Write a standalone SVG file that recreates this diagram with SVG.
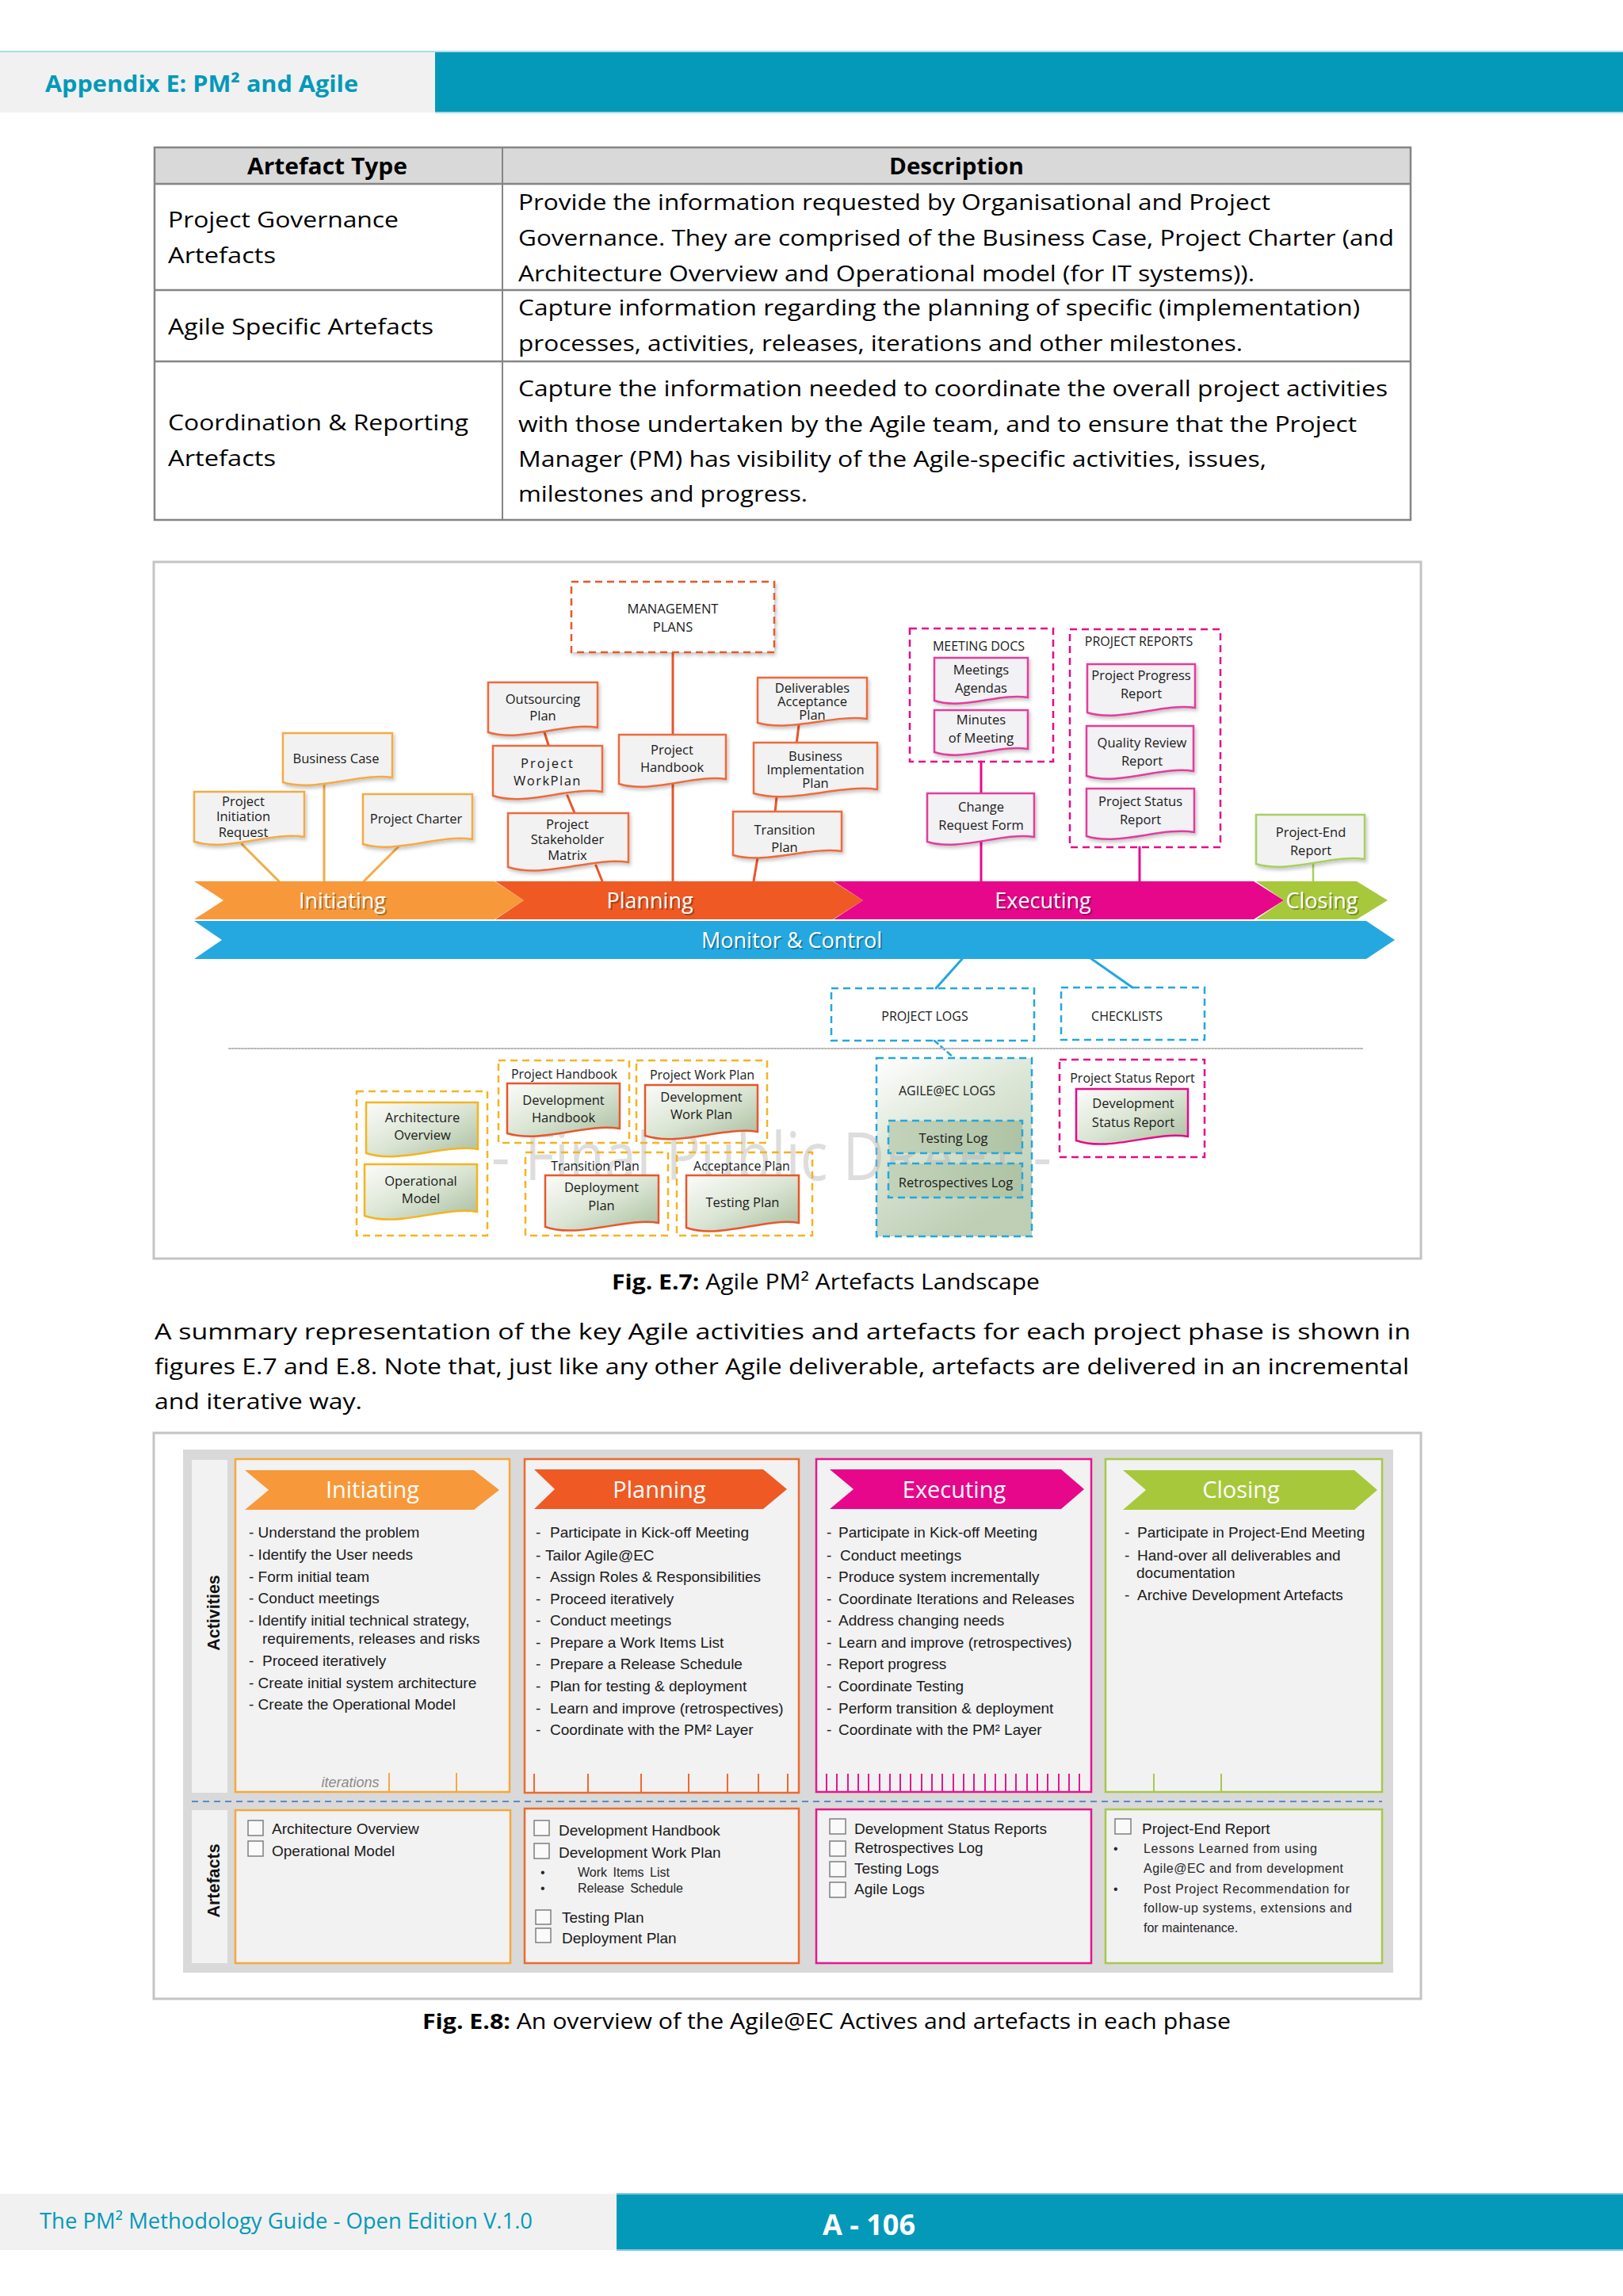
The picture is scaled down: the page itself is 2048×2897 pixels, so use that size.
<svg xmlns="http://www.w3.org/2000/svg" width="2048" height="2897" viewBox="0 0 2048 2897">
<defs>
<style>
.o{font-family:"Open Sans","Liberation Sans",sans-serif}
.tb{font-family:"Open Sans","Liberation Sans",sans-serif;font-size:28px;fill:#000}
.dt{font-family:"Open Sans","Liberation Sans",sans-serif;font-size:16.5px;fill:#1a1a1a;text-anchor:middle}
.gt{font-family:"Open Sans","Liberation Sans",sans-serif;font-size:16px;fill:#1a1a1a;text-anchor:middle}
.di{fill:#f2f2f2;stroke:#f4ab44;stroke-width:2.5;filter:url(#sh)}
.dp{fill:#f2f2f2;stroke:#ee6b3d;stroke-width:2.5;filter:url(#sh)}
.de{fill:#f2f1f4;stroke:#e33d9d;stroke-width:2.5;filter:url(#sh)}
.dc{fill:#f2f2f2;stroke:#a9cf5f;stroke-width:2.5;filter:url(#sh)}
.by{fill:url(#gg);stroke:#f5b41e;stroke-width:2.5}
.br{fill:url(#gg);stroke:#e8572a;stroke-width:2.5}
.bp{fill:url(#gg);stroke:#e8098a;stroke-width:2.5}
.dash{fill:none;stroke-width:2.5;stroke-dasharray:9 6}
.bar{font-family:"Open Sans","Liberation Sans",sans-serif;font-size:27px;fill:#fff;text-anchor:middle}
.bsh{font-family:"Open Sans","Liberation Sans",sans-serif;font-size:27px;fill:#000;fill-opacity:.3;text-anchor:middle}
.ph{font-family:"Open Sans","Liberation Sans",sans-serif;font-size:29px;fill:#fff;text-anchor:middle}
.act{font-family:"Liberation Sans",Arial,sans-serif;font-size:19px;fill:#1a1a1a}
.sm{font-family:"Liberation Sans",Arial,sans-serif;font-size:16px;fill:#262626}
.cb{fill:#fafafa;stroke:#7f7f7f;stroke-width:1.5}
.col{fill:#f2f2f3;stroke-width:2.5}
</style>
<linearGradient id="gg" x1="0" y1="0" x2="1" y2="1">
<stop offset="0" stop-color="#fbfcfa"/>
<stop offset="0.5" stop-color="#dbe5d4"/>
<stop offset="1" stop-color="#a8bd9e"/>
</linearGradient>
<linearGradient id="ga" x1="0" y1="0" x2="0.5" y2="1">
<stop offset="0" stop-color="#ffffff"/>
<stop offset="0.45" stop-color="#d6e2cf"/>
<stop offset="1" stop-color="#b2c6a8"/>
</linearGradient>
<linearGradient id="gl" x1="0" y1="0" x2="1" y2="0">
<stop offset="0" stop-color="#c3d3ba"/>
<stop offset="1" stop-color="#aec3a4"/>
</linearGradient>
<filter id="sh" x="-10%" y="-10%" width="130%" height="140%">
<feDropShadow dx="2" dy="3" stdDeviation="2" flood-color="#000" flood-opacity="0.22"/>
</filter>
</defs>

<rect width="2048" height="2897" fill="#fff"/>

<!-- Header -->
<g id="header">
<rect x="0" y="65" width="549" height="77" fill="#f1f1f1"/>
<rect x="549" y="65" width="1499" height="77" fill="#0499b9"/>
<line x1="0" y1="65" x2="2048" y2="65" stroke="#a9dbe7" stroke-width="2"/>
<line x1="549" y1="142" x2="2048" y2="142" stroke="#a9dbe7" stroke-width="2"/>
<text class="o" x="57" y="116" font-size="29" font-weight="bold" fill="#0499b9" textLength="395" lengthAdjust="spacingAndGlyphs">Appendix E: PM² and Agile</text>
</g>

<!-- Table -->
<g id="table">
<rect x="195" y="186" width="1585" height="46" fill="#d9d9d9"/>
<rect x="195" y="186" width="1585" height="470" fill="none" stroke="#858585" stroke-width="2.5"/>
<line x1="195" y1="232" x2="1780" y2="232" stroke="#858585" stroke-width="2.5"/>
<line x1="195" y1="366" x2="1780" y2="366" stroke="#858585" stroke-width="2.5"/>
<line x1="195" y1="456" x2="1780" y2="456" stroke="#858585" stroke-width="2.5"/>
<line x1="634" y1="186" x2="634" y2="656" stroke="#858585" stroke-width="2"/>
<text class="tb" x="413" y="220" font-weight="bold" text-anchor="middle" textLength="202" lengthAdjust="spacingAndGlyphs">Artefact Type</text>
<text class="tb" x="1207" y="220" font-weight="bold" text-anchor="middle" textLength="170" lengthAdjust="spacingAndGlyphs">Description</text>
<text class="tb" x="212" y="287" textLength="291" lengthAdjust="spacingAndGlyphs">Project Governance</text>
<text class="tb" x="212" y="332" textLength="136" lengthAdjust="spacingAndGlyphs">Artefacts</text>
<text class="tb" x="654" y="265" textLength="949" lengthAdjust="spacingAndGlyphs">Provide the information requested by Organisational and Project</text>
<text class="tb" x="654" y="310" textLength="1105" lengthAdjust="spacingAndGlyphs">Governance. They are comprised of the Business Case, Project Charter (and</text>
<text class="tb" x="654" y="355" textLength="929" lengthAdjust="spacingAndGlyphs">Architecture Overview and Operational model (for IT systems)).</text>
<text class="tb" x="212" y="422" textLength="335" lengthAdjust="spacingAndGlyphs">Agile Specific Artefacts</text>
<text class="tb" x="654" y="398" textLength="1062" lengthAdjust="spacingAndGlyphs">Capture information regarding the planning of specific (implementation)</text>
<text class="tb" x="654" y="443" textLength="914" lengthAdjust="spacingAndGlyphs">processes, activities, releases, iterations and other milestones.</text>
<text class="tb" x="212" y="543" textLength="379" lengthAdjust="spacingAndGlyphs">Coordination &amp; Reporting</text>
<text class="tb" x="212" y="588" textLength="136" lengthAdjust="spacingAndGlyphs">Artefacts</text>
<text class="tb" x="654" y="500" textLength="1097" lengthAdjust="spacingAndGlyphs">Capture the information needed to coordinate the overall project activities</text>
<text class="tb" x="654" y="545" textLength="1058" lengthAdjust="spacingAndGlyphs">with those undertaken by the Agile team, and to ensure that the Project</text>
<text class="tb" x="654" y="589" textLength="944" lengthAdjust="spacingAndGlyphs">Manager (PM) has visibility of the Agile-specific activities, issues,</text>
<text class="tb" x="654" y="633" textLength="365" lengthAdjust="spacingAndGlyphs">milestones and progress.</text>
</g>

<!-- Fig E.7 -->
<g id="fig-e7">
<rect x="194" y="709" width="1599" height="879" fill="#fff" stroke="#c4c4c4" stroke-width="3"/>

<g id="e7-connectors" stroke-linecap="round" fill="none">
<g stroke="#f4ab44" stroke-width="3">
<line x1="305" y1="1065" x2="352" y2="1112"/>
<line x1="409" y1="990" x2="409" y2="1112"/>
<line x1="503" y1="1068" x2="459" y2="1112"/>
</g>
<g stroke="#e8572a" stroke-width="3">
<line x1="687" y1="924" x2="693" y2="943"/>
<line x1="716" y1="1004" x2="726" y2="1028"/>
<line x1="752" y1="1092" x2="760" y2="1112"/>
<line x1="849" y1="823" x2="849" y2="1112"/>
<line x1="1008" y1="915" x2="1005" y2="939"/>
<line x1="980" y1="1005" x2="978" y2="1026"/>
<line x1="956" y1="1082" x2="951" y2="1112"/>
</g>
<g stroke="#e8098a" stroke-width="3">
<line x1="1238" y1="961" x2="1238" y2="1001"/>
<line x1="1238" y1="1062" x2="1238" y2="1112"/>
<line x1="1438" y1="1069" x2="1438" y2="1112"/>
</g>
<line x1="1657" y1="1090" x2="1657" y2="1112" stroke="#a9cf5f" stroke-width="2.5"/>
<g stroke="#22a7df" stroke-width="3">
<line x1="1214" y1="1210" x2="1181" y2="1247"/>
<line x1="1349" y1="1190" x2="1429" y2="1246"/>
</g>
<line x1="1179" y1="1313" x2="1204" y2="1335" stroke="#22a7df" stroke-width="2.5" stroke-dasharray="6 5"/>
<line x1="289" y1="1323" x2="1719" y2="1323" stroke="#b5b5b5" stroke-width="2" stroke-dasharray="2 2"/>
</g>

<g id="phase-bars">
<polygon points="245,1112 624,1112 661,1136 624,1160 245,1160 282,1136" fill="#f7993b"/>
<polygon points="625,1112 1051,1112 1089,1136 1051,1160 625,1160 661,1136" fill="#ef5a24"/>
<polygon points="1052,1112 1582,1112 1620,1136 1582,1160 1052,1160 1089,1136" fill="#e7078a"/>
<polygon points="1585,1112 1712,1112 1751,1136 1712,1160 1585,1160 1620,1136" fill="#a8c83c"/>
<polygon points="245,1162 1724,1162 1760,1186 1724,1210 245,1210 280,1186" fill="#24a8df"/>
<text class="bsh" x="434" y="1148">Initiating</text>
<text class="bar" x="432" y="1146">Initiating</text>
<text class="bsh" x="822" y="1148">Planning</text>
<text class="bar" x="820" y="1146">Planning</text>
<text class="bsh" x="1318" y="1148">Executing</text>
<text class="bar" x="1316" y="1146">Executing</text>
<text class="bsh" x="1670" y="1148">Closing</text>
<text class="bar" x="1668" y="1146">Closing</text>
<text class="bsh" x="1001" y="1198">Monitor &amp; Control</text>
<text class="bar" x="999" y="1196">Monitor &amp; Control</text>
</g>

<g id="management-plans">
<rect x="721" y="734" width="256" height="89" fill="#fff" stroke="#e8572a" class="dash" style="fill:#fff;filter:url(#sh)"/>
<text class="dt" x="849" y="774" font-size="17">MANAGEMENT</text>
<text class="dt" x="849" y="797" font-size="17">PLANS</text>
</g>

<g id="project-initiation-request"><path class="di" d="M245 999H384V1056C342 1049 287 1075 245 1062Z"/>
<text class="dt" x="307" y="1017">Project</text><text class="dt" x="307" y="1036">Initiation</text><text class="dt" x="307" y="1056">Request</text></g>
<g id="business-case"><path class="di" d="M357 925H495V981C454 975 398 1000 357 987Z"/>
<text class="dt" x="424" y="963">Business Case</text></g>
<g id="project-charter"><path class="di" d="M458 1002H596V1059C555 1052 499 1078 458 1065Z"/>
<text class="dt" x="525" y="1039">Project Charter</text></g>

<g id="outsourcing-plan"><path class="dp" d="M616 861H754V918C713 911 657 937 616 924Z"/>
<text class="dt" x="685" y="888">Outsourcing</text><text class="dt" x="685" y="909">Plan</text></g>
<g id="project-workplan"><path class="dp" d="M622 941H760V999C719 992 663 1018 622 1004Z"/>
<text class="dt" x="691" y="969" letter-spacing="2">Project</text><text class="dt" x="691" y="991" letter-spacing="1.5">WorkPlan</text></g>
<g id="project-stakeholder-matrix"><path class="dp" d="M641 1026H793V1088C747 1081 687 1109 641 1094Z"/>
<text class="dt" x="716" y="1046">Project</text><text class="dt" x="716" y="1065">Stakeholder</text><text class="dt" x="716" y="1085">Matrix</text></g>
<g id="project-handbook"><path class="dp" d="M781 927H916V983C876 977 822 1002 781 989Z"/>
<text class="dt" x="848" y="952">Project</text><text class="dt" x="848" y="974">Handbook</text></g>
<g id="deliverables-acceptance-plan"><path class="dp" d="M956 855H1094V907C1053 901 997 924 956 912Z"/>
<text class="dt" x="1025" y="874" font-size="15.5">Deliverables</text><text class="dt" x="1025" y="891" font-size="15.5">Acceptance</text><text class="dt" x="1025" y="908" font-size="15.5">Plan</text></g>
<g id="business-implementation-plan"><path class="dp" d="M951 937H1107V996C1060 989 998 1015 951 1001Z"/>
<text class="dt" x="1029" y="960" font-size="15.5">Business</text><text class="dt" x="1029" y="977" font-size="15.5">Implementation</text><text class="dt" x="1029" y="994" font-size="15.5">Plan</text></g>
<g id="transition-plan"><path class="dp" d="M925 1024H1062V1074C1021 1068 966 1091 925 1079Z"/>
<text class="dt" x="990" y="1053">Transition</text><text class="dt" x="990" y="1075">Plan</text></g>

<g id="meeting-docs">
<rect x="1148" y="793" width="181" height="168" class="dash" stroke="#e8098a"/>
<text class="gt" x="1235" y="821">MEETING DOCS</text>
</g>
<g id="meetings-agendas"><path class="de" d="M1179 830H1297V880C1262 874 1214 896 1179 884Z"/>
<text class="dt" x="1238" y="851">Meetings</text><text class="dt" x="1238" y="874">Agendas</text></g>
<g id="minutes-of-meeting"><path class="de" d="M1179 896H1297V945C1262 939 1214 961 1179 949Z"/>
<text class="dt" x="1238" y="914">Minutes</text><text class="dt" x="1238" y="937">of Meeting</text></g>
<g id="change-request-form"><path class="de" d="M1170 1001H1305V1056C1264 1050 1210 1075 1170 1062Z"/>
<text class="dt" x="1238" y="1024">Change</text><text class="dt" x="1238" y="1047">Request Form</text></g>

<g id="project-reports">
<rect x="1350" y="794" width="190" height="275" class="dash" stroke="#e8098a"/>
<text class="gt" x="1437" y="815">PROJECT REPORTS</text>
</g>
<g id="project-progress-report"><path class="de" d="M1372 838H1508V893C1467 887 1413 912 1372 899Z"/>
<text class="dt" x="1440" y="858">Project Progress</text><text class="dt" x="1440" y="881">Report</text></g>
<g id="quality-review-report"><path class="de" d="M1371 916H1506V973C1466 966 1411 992 1371 979Z"/>
<text class="dt" x="1441" y="943">Quality Review</text><text class="dt" x="1441" y="966">Report</text></g>
<g id="project-status-report"><path class="de" d="M1371 995H1507V1050C1466 1043 1412 1068 1371 1055Z"/>
<text class="dt" x="1439" y="1017">Project Status</text><text class="dt" x="1439" y="1040">Report</text></g>

<g id="project-end-report"><path class="dc" d="M1585 1028H1722V1084C1681 1078 1626 1103 1585 1090Z"/>
<text class="dt" x="1654" y="1056">Project-End</text><text class="dt" x="1654" y="1079">Report</text></g>

<g id="project-logs">
<rect x="1049" y="1247" width="256" height="66" class="dash" stroke="#22a7df"/>
<text class="gt" x="1167" y="1288">PROJECT LOGS</text>
</g>
<g id="checklists">
<rect x="1339" y="1246" width="181" height="66" class="dash" stroke="#22a7df"/>
<text class="gt" x="1422" y="1288">CHECKLISTS</text>
</g>

<g id="agile-ec-logs">
<rect x="1106" y="1335" width="196" height="225" fill="url(#ga)" fill-opacity="0.85"/>
<rect x="1106" y="1335" width="196" height="225" class="dash" stroke="#22a7df"/>
<text class="gt" x="1195" y="1382">AGILE@EC LOGS</text>
</g>

<g id="watermark">
<text class="o" x="620" y="1489" font-size="84" fill="#b4b4b4" fill-opacity="0.45" textLength="707" lengthAdjust="spacingAndGlyphs">- Final Public DRAFT -</text>
</g>

<g id="testing-log">
<rect x="1121" y="1414" width="169" height="41" fill="url(#gl)" stroke="#22a7df" stroke-width="2.5" stroke-dasharray="9 6"/>
<text class="dt" x="1203" y="1442">Testing Log</text>
</g>
<g id="retrospectives-log">
<rect x="1121" y="1468" width="169" height="43" fill="url(#gl)" stroke="#22a7df" stroke-width="2.5" stroke-dasharray="9 6"/>
<text class="dt" x="1206" y="1498">Retrospectives Log</text>
</g>

<g id="psr-group">
<rect x="1337" y="1337" width="183" height="123" class="dash" stroke="#e8098a"/>
<text class="gt" x="1429" y="1366">Project Status Report</text>
</g>
<g id="development-status-report"><path class="bp" d="M1358 1374H1499V1434C1457 1427 1400 1454 1358 1439Z"/>
<text class="dt" x="1430" y="1398">Development</text><text class="dt" x="1430" y="1422">Status Report</text></g>

<g id="arch-op-group"><rect x="450" y="1377" width="165" height="182" class="dash" stroke="#f5b41e"/></g>
<g id="architecture-overview"><path class="by" d="M462 1391H603V1450C561 1443 504 1469 462 1455Z"/>
<text class="dt" x="533" y="1416">Architecture</text><text class="dt" x="533" y="1438">Overview</text></g>
<g id="operational-model"><path class="by" d="M460 1469H602V1529C559 1522 503 1549 460 1534Z"/>
<text class="dt" x="531" y="1496">Operational</text><text class="dt" x="531" y="1518">Model</text></g>

<g id="ph-group">
<rect x="629" y="1338" width="165" height="104" class="dash" stroke="#f5b41e"/>
<text class="gt" x="712" y="1361">Project Handbook</text>
</g>
<g id="development-handbook"><path class="br" d="M640 1367H782V1424C739 1417 683 1443 640 1430Z"/>
<text class="dt" x="711" y="1394">Development</text><text class="dt" x="711" y="1416">Handbook</text></g>

<g id="pwp-group">
<rect x="803" y="1338" width="165" height="104" class="dash" stroke="#f5b41e"/>
<text class="gt" x="886" y="1362">Project Work Plan</text>
</g>
<g id="development-work-plan"><path class="br" d="M814 1369H956V1428C913 1421 857 1447 814 1433Z"/>
<text class="dt" x="885" y="1390">Development</text><text class="dt" x="885" y="1412">Work Plan</text></g>

<g id="tp-group">
<rect x="663" y="1454" width="180" height="105" class="dash" stroke="#f5b41e"/>
<text class="gt" x="751" y="1477">Transition Plan</text>
</g>
<g id="deployment-plan"><path class="br" d="M688 1483H831V1543C788 1536 731 1563 688 1548Z"/>
<text class="dt" x="759" y="1504">Deployment</text><text class="dt" x="759" y="1527">Plan</text></g>

<g id="ap-group">
<rect x="854" y="1454" width="171" height="105" class="dash" stroke="#f5b41e"/>
<text class="gt" x="936" y="1477">Acceptance Plan</text>
</g>
<g id="testing-plan"><path class="br" d="M866 1483H1008V1543C965 1536 909 1564 866 1549Z"/>
<text class="dt" x="937" y="1523">Testing Plan</text></g>
</g>

<!-- Caption E.7 and paragraph -->
<g id="caption-e7">
<text class="o" x="772" y="1627" font-size="27" fill="#000" textLength="540" lengthAdjust="spacingAndGlyphs"><tspan font-weight="bold">Fig. E.7:</tspan> Agile PM² Artefacts Landscape</text>
</g>
<g id="paragraph">
<text class="tb" x="195" y="1690" textLength="1585" lengthAdjust="spacingAndGlyphs">A summary representation of the key Agile activities and artefacts for each project phase is shown in</text>
<text class="tb" x="195" y="1734" textLength="1583" lengthAdjust="spacingAndGlyphs">figures E.7 and E.8. Note that, just like any other Agile deliverable, artefacts are delivered in an incremental</text>
<text class="tb" x="195" y="1778" textLength="262" lengthAdjust="spacingAndGlyphs">and iterative way.</text>
</g>

<!-- Fig E.8 -->
<g id="fig-e8">
<rect x="194" y="1808" width="1599" height="714" fill="#fff" stroke="#c4c4c4" stroke-width="3"/>
<rect x="231" y="1829" width="1527" height="660" fill="#d9d9d9"/>
<g id="row-labels">
<rect x="242" y="1842" width="45" height="420" fill="#f2f2f2"/>
<rect x="242" y="2284" width="45" height="193" fill="#f2f2f2"/>
<text transform="translate(277 2035) rotate(-90)" text-anchor="middle" font-family="Liberation Sans, Arial, sans-serif" font-weight="bold" font-size="21.5" fill="#111">Activities</text>
<text transform="translate(277 2373) rotate(-90)" text-anchor="middle" font-family="Liberation Sans, Arial, sans-serif" font-weight="bold" font-size="21.5" fill="#111">Artefacts</text>
</g>
<line x1="242" y1="2273" x2="1744" y2="2273" stroke="#5b8bc9" stroke-width="2" stroke-dasharray="8 6"/>

<g id="e8-initiating">
<rect class="col" x="297" y="1841" width="346" height="420" stroke="#f7a83b"/>
<polygon points="309,1855 598,1855 630,1880 598,1905 309,1905 339,1880" fill="#f7993b"/>
<text class="ph" x="470" y="1890">Initiating</text>
<text class="act" x="314" y="1940">- Understand the problem</text>
<text class="act" x="314" y="1968">- Identify the User needs</text>
<text class="act" x="314" y="1996">- Form initial team</text>
<text class="act" x="314" y="2023">- Conduct meetings</text>
<text class="act" x="314" y="2051">- Identify initial technical strategy,</text>
<text class="act" x="331" y="2074">requirements, releases and risks</text>
<text class="act" y="2102"><tspan x="314">-</tspan><tspan x="331">Proceed iteratively</tspan></text>
<text class="act" x="314" y="2130">- Create initial system architecture</text>
<text class="act" x="314" y="2157">- Create the Operational Model</text>
<text x="442" y="2255" text-anchor="middle" font-family="Liberation Sans, Arial, sans-serif" font-style="italic" font-size="18" fill="#8a8a8a">iterations</text>
<path d="M491 2237V2261M576 2237V2261" stroke="#f7a83b" stroke-width="2"/>
</g>
<g id="e8-planning">
<rect class="col" x="662" y="1841" width="346" height="421" stroke="#ee6a2c"/>
<polygon points="674,1854 963,1854 993,1879 963,1904 674,1904 700,1879" fill="#ef5a24"/>
<text class="ph" x="832" y="1890">Planning</text>
<text class="act" y="1940"><tspan x="676">-</tspan><tspan x="694">Participate in Kick-off Meeting</tspan></text>
<text class="act" y="1969"><tspan x="676">-</tspan><tspan x="688">Tailor Agile@EC</tspan></text>
<text class="act" y="1996"><tspan x="676">-</tspan><tspan x="694">Assign Roles &amp; Responsibilities</tspan></text>
<text class="act" y="2024"><tspan x="676">-</tspan><tspan x="694">Proceed iteratively</tspan></text>
<text class="act" y="2051"><tspan x="676">-</tspan><tspan x="694">Conduct meetings</tspan></text>
<text class="act" y="2079"><tspan x="676">-</tspan><tspan x="694">Prepare a Work Items List</tspan></text>
<text class="act" y="2106"><tspan x="676">-</tspan><tspan x="694">Prepare a Release Schedule</tspan></text>
<text class="act" y="2134"><tspan x="676">-</tspan><tspan x="694">Plan for testing &amp; deployment</tspan></text>
<text class="act" y="2162"><tspan x="676">-</tspan><tspan x="694">Learn and improve (retrospectives)</tspan></text>
<text class="act" y="2189"><tspan x="676">-</tspan><tspan x="694">Coordinate with the PM² Layer</tspan></text>
<path d="M674 2238V2262M742 2238V2262M809 2238V2262M869 2238V2262M918 2238V2262M957 2238V2262M994 2238V2262" stroke="#ee6a2c" stroke-width="2"/>
</g>
<g id="e8-executing">
<rect class="col" x="1030" y="1841" width="347" height="420" stroke="#e8168c"/>
<polygon points="1047,1854 1339,1854 1368,1879 1339,1904 1047,1904 1077,1879" fill="#e7078a"/>
<text class="ph" x="1204" y="1890">Executing</text>
<text class="act" y="1940"><tspan x="1043">-</tspan><tspan x="1058">Participate in Kick-off Meeting</tspan></text>
<text class="act" y="1969"><tspan x="1043">-</tspan><tspan x="1060">Conduct meetings</tspan></text>
<text class="act" y="1996"><tspan x="1043">-</tspan><tspan x="1058">Produce system incrementally</tspan></text>
<text class="act" y="2024"><tspan x="1043">-</tspan><tspan x="1058">Coordinate Iterations and Releases</tspan></text>
<text class="act" y="2051"><tspan x="1043">-</tspan><tspan x="1058">Address changing needs</tspan></text>
<text class="act" y="2079"><tspan x="1043">-</tspan><tspan x="1058">Learn and improve (retrospectives)</tspan></text>
<text class="act" y="2106"><tspan x="1043">-</tspan><tspan x="1058">Report progress</tspan></text>
<text class="act" y="2134"><tspan x="1043">-</tspan><tspan x="1058">Coordinate Testing</tspan></text>
<text class="act" y="2162"><tspan x="1043">-</tspan><tspan x="1058">Perform transition &amp; deployment</tspan></text>
<text class="act" y="2189"><tspan x="1043">-</tspan><tspan x="1058">Coordinate with the PM² Layer</tspan></text>
<path d="M1043 2238V2261M1056 2238V2261M1070 2238V2261M1083 2238V2261M1096 2238V2261M1110 2238V2261M1123 2238V2261M1136 2238V2261M1149 2238V2261M1163 2238V2261M1176 2238V2261M1189 2238V2261M1203 2238V2261M1216 2238V2261M1229 2238V2261M1243 2238V2261M1256 2238V2261M1269 2238V2261M1282 2238V2261M1296 2238V2261M1309 2238V2261M1322 2238V2261M1336 2238V2261M1349 2238V2261M1362 2238V2261" stroke="#e8168c" stroke-width="2"/>
</g>
<g id="e8-closing">
<rect class="col" x="1395" y="1841" width="349" height="420" stroke="#a8c84a"/>
<polygon points="1417,1855 1709,1855 1738,1880 1709,1905 1417,1905 1446,1880" fill="#a8c83c"/>
<text class="ph" x="1566" y="1890">Closing</text>
<text class="act" y="1940"><tspan x="1419">-</tspan><tspan x="1435">Participate in Project-End Meeting</tspan></text>
<text class="act" y="1969"><tspan x="1419">-</tspan><tspan x="1435">Hand-over all deliverables and</tspan></text>
<text class="act" x="1434" y="1991">documentation</text>
<text class="act" y="2019"><tspan x="1419">-</tspan><tspan x="1435">Archive Development Artefacts</tspan></text>
<path d="M1456 2238V2261M1541 2238V2261" stroke="#a8c84a" stroke-width="2"/>
</g>

<g id="e8-art-initiating">
<rect class="col" x="297" y="2284" width="347" height="193" stroke="#f7a83b"/>
<rect class="cb" x="313" y="2297" width="19" height="19"/>
<text class="act" x="343" y="2314">Architecture Overview</text>
<rect class="cb" x="313" y="2323" width="19" height="19"/>
<text class="act" x="343" y="2342">Operational Model</text>
</g>
<g id="e8-art-planning">
<rect class="col" x="662" y="2282" width="346" height="195" stroke="#ee6a2c"/>
<rect class="cb" x="674" y="2297" width="19" height="19"/>
<text class="act" x="705" y="2316">Development Handbook</text>
<rect class="cb" x="674" y="2326" width="19" height="19"/>
<text class="act" x="705" y="2344">Development Work Plan</text>
<text class="sm" x="682" y="2368">•</text>
<text class="sm" x="729" y="2368" word-spacing="3">Work Items List</text>
<text class="sm" x="682" y="2388">•</text>
<text class="sm" x="729" y="2388" word-spacing="3">Release Schedule</text>
<rect class="cb" x="676" y="2410" width="19" height="18"/>
<text class="act" x="709" y="2426">Testing Plan</text>
<rect class="cb" x="676" y="2433" width="19" height="18"/>
<text class="act" x="709" y="2452">Deployment Plan</text>
</g>
<g id="e8-art-executing">
<rect class="col" x="1030" y="2283" width="347" height="194" stroke="#e8168c"/>
<rect class="cb" x="1047" y="2295" width="20" height="19"/>
<text class="act" x="1078" y="2314">Development Status Reports</text>
<rect class="cb" x="1047" y="2323" width="20" height="19"/>
<text class="act" x="1078" y="2338">Retrospectives Log</text>
<rect class="cb" x="1047" y="2349" width="20" height="19"/>
<text class="act" x="1078" y="2364">Testing Logs</text>
<rect class="cb" x="1047" y="2375" width="20" height="19"/>
<text class="act" x="1078" y="2390">Agile Logs</text>
</g>
<g id="e8-art-closing">
<rect class="col" x="1395" y="2283" width="349" height="194" stroke="#a8c84a"/>
<rect class="cb" x="1407" y="2295" width="20" height="19"/>
<text class="act" x="1441" y="2314">Project-End Report</text>
<text class="sm" x="1405" y="2338">•</text>
<text class="sm" x="1443" y="2338" textLength="219" lengthAdjust="spacing">Lessons Learned from using</text>
<text class="sm" x="1443" y="2363" textLength="252" lengthAdjust="spacing">Agile@EC and from development</text>
<text class="sm" x="1405" y="2389">•</text>
<text class="sm" x="1443" y="2389" textLength="260" lengthAdjust="spacing">Post Project Recommendation for</text>
<text class="sm" x="1443" y="2413" textLength="263" lengthAdjust="spacing">follow-up systems, extensions and</text>
<text class="sm" x="1443" y="2438">for maintenance.</text>
</g>
</g>

<g id="caption-e8">
<text class="o" x="533" y="2560" font-size="27" fill="#000" textLength="1020" lengthAdjust="spacingAndGlyphs"><tspan font-weight="bold">Fig. E.8:</tspan> An overview of the Agile@EC Actives and artefacts in each phase</text>
</g>

<!-- Footer -->
<g id="footer">
<rect x="0" y="2768" width="778" height="71" fill="#f1f1f1"/>
<rect x="778" y="2768" width="1270" height="71" fill="#0499b9"/>
<line x1="778" y1="2768" x2="2048" y2="2768" stroke="#7fcbe0" stroke-width="2"/>
<line x1="778" y1="2839" x2="2048" y2="2839" stroke="#7fcbe0" stroke-width="2"/>
<text class="o" x="50" y="2812" font-size="27" fill="#0499b9" textLength="622" lengthAdjust="spacingAndGlyphs">The PM² Methodology Guide - Open Edition V.1.0</text>
<text class="o" x="1038" y="2820" font-size="35" font-weight="bold" fill="#fff" textLength="117" lengthAdjust="spacingAndGlyphs">A - 106</text>
</g>
</svg>
